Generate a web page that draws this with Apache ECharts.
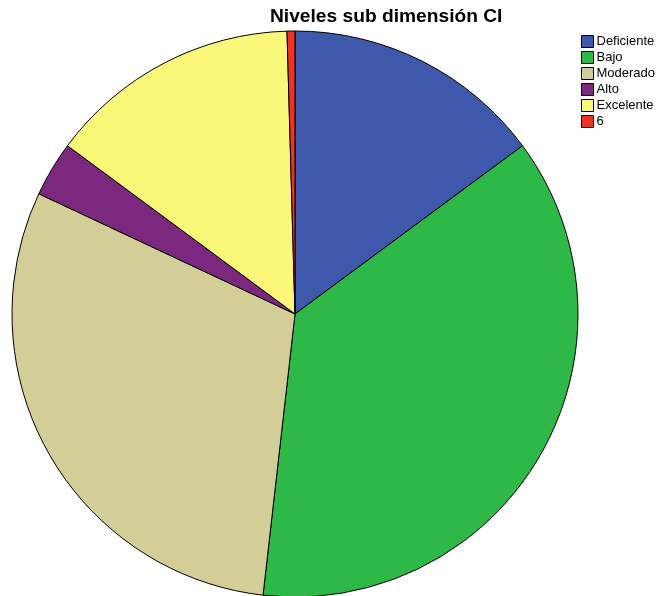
<!DOCTYPE html>
<html><head><meta charset="utf-8">
<script src="https://cdn.jsdelivr.net/npm/echarts@6/dist/echarts.min.js"></script>
<style>html,body{margin:0;padding:0;background:#fff}#c{width:656px;height:596px}</style>
</head><body><div id="c"></div>
<script>
const categories = ["Deficiente","Bajo","Moderado","Alto","Excelente","6"];
const values = [33,82,67,7,32,1];
const colors = ["#3e58ac","#2eb848","#d3ce97","#7b287e","#fbf779","#ee3224"];
const chart = echarts.init(document.getElementById('c'));
chart.setOption({
  animation:false,
  title:{text:"Niveles sub dimensión CI",left:265,top:2,textStyle:{fontFamily:"Liberation Sans, Arial",fontSize:19.2,fontWeight:"bold",color:"#000"}},
  legend:{orient:"vertical",left:576,top:30,itemWidth:12,itemHeight:12,itemGap:3,icon:"rect",
    textStyle:{fontFamily:"Liberation Sans, Arial",fontSize:13,lineHeight:12,color:"#000",padding:[0,0,0,-2]},
    itemStyle:{borderColor:"#000",borderWidth:1},data:categories},
  series:[{type:"pie",center:[295,314],radius:283,startAngle:90,clockwise:true,
    label:{show:false},labelLine:{show:false},
    itemStyle:{borderColor:"#000",borderWidth:1},
    emphasis:{disabled:true},
    data:categories.map((c,i)=>({name:c,value:values[i],itemStyle:{color:colors[i]}}))}]
});
</script></body></html>
